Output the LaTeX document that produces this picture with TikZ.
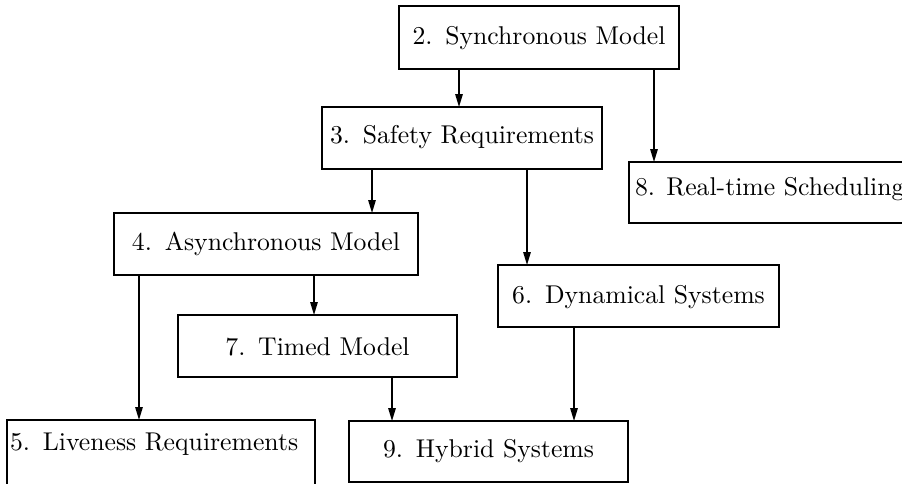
\documentclass[tikz,border=0pt]{standalone}
\usepackage{fontspec}
\setmainfont{lmroman10-regular}[Extension=.otf]
\usetikzlibrary{arrows.meta}
\begin{document}
\begin{tikzpicture}[x=1pt,y=-1pt,
  chapter/.style={draw, line width=1.6pt, outer sep=0pt, inner ysep=0pt,
    inner xsep=2pt, align=center, anchor=north west,
    font=\fontsize{25.7}{30}\selectfont},
  dep/.style={line width=1.4pt, -{Triangle[length=13pt,width=7.5pt]}}]
  \useasboundingbox (0,0) rectangle (902,483);
  \clip (0,0) rectangle (902,483);

  % chapter boxes: north-west corner, width via text width, height via text height/depth
  \node[chapter, text width=276pt, text height=38pt, text depth=25pt] (b2) at (399,6) {2. Synchronous Model};
  \node[chapter, text width=276pt, text height=36pt, text depth=26pt] (b3) at (322,107) {3. Safety Requirements};
  \node[chapter, text width=300pt, text height=37pt, text depth=25pt] (b4) at (114,213) {4. Asynchronous Model};
  \node[chapter, inner xsep=6pt, text height=33pt, text depth=28pt] (b8) at (629,162) {8. Real-time Scheduling};
  \node[chapter, text width=277pt, text height=38pt, text depth=24pt] (b6) at (498,265) {6. Dynamical Systems};
  \node[chapter, text width=275pt, text height=40pt, text depth=22pt] (b7) at (178,315) {7. Timed Model};
  \node[chapter, inner xsep=3pt, align=left, text width=302pt, text height=30pt, text depth=42pt] (b5) at (7,420) {5. Liveness Requirements};
  \node[chapter, text width=275pt, text height=36pt, text depth=25pt] (b9) at (349,421) {9. Hybrid Systems};

  % dependencies: vertical arrows between boxes
  \draw[dep] (b2.south -| 459,0) -- (b3.north -| 459,0);
  \draw[dep] (b2.south -| 654,0) -- (b8.north -| 654,0);
  \draw[dep] (b3.south -| 372,0) -- (b4.north -| 372,0);
  \draw[dep] (b3.south -| 527,0) -- (b6.north -| 527,0);
  \draw[dep] (b4.south -| 139,0) -- (b5.north -| 139,0);
  \draw[dep] (b4.south -| 314,0) -- (b7.north -| 314,0);
  \draw[dep] (b7.south -| 392,0) -- (b9.north -| 392,0);
  \draw[dep] (b6.south -| 574,0) -- (b9.north -| 574,0);
\end{tikzpicture}
\end{document}
